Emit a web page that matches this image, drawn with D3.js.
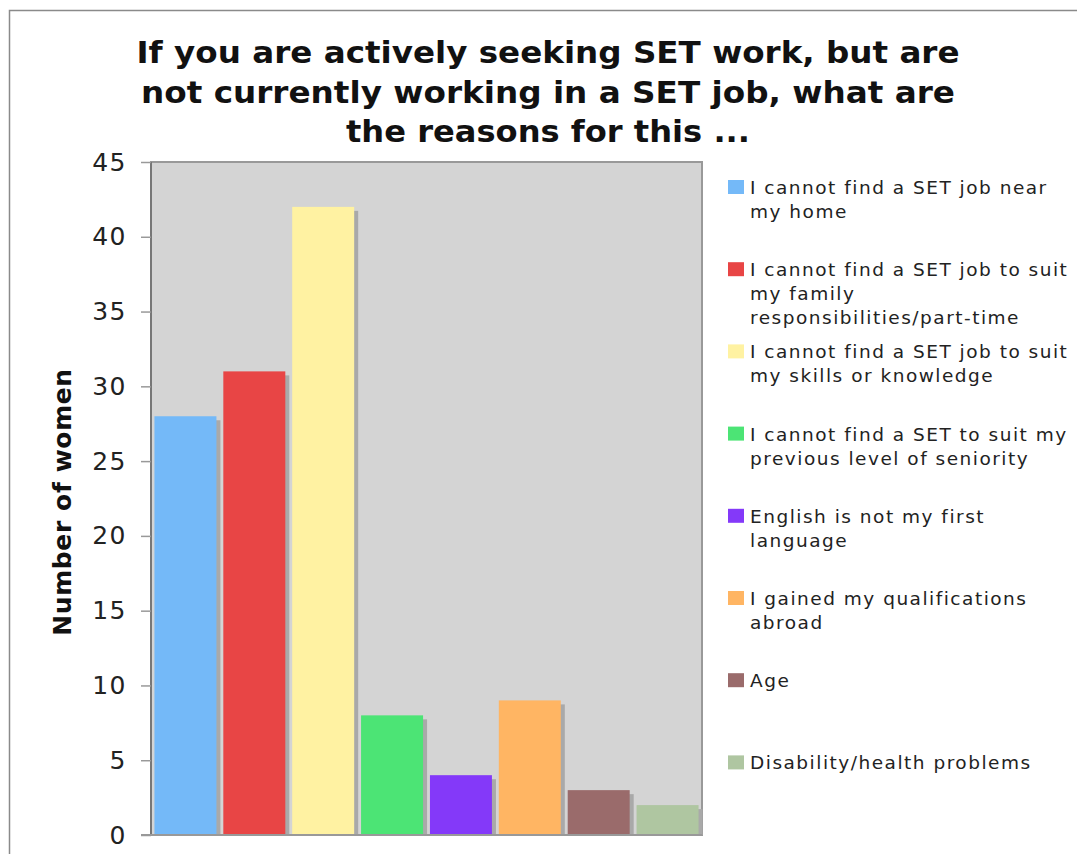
<!DOCTYPE html>
<html>
<head>
<meta charset="utf-8">
<script src="https://cdn.jsdelivr.net/npm/d3@7"></script>
<style>
	body { margin: 0; background: #fff; }
	text { font-family: "DejaVu Sans", Verdana, sans-serif; fill: #111; }
	.title { font-weight: bold; font-size: 30px; }
	.axis-label { font-weight: bold; font-size: 25px; letter-spacing: 0.6px; }
	.y-axis text { font-size: 25px; letter-spacing: 1.5px; fill: #222; }
	.legend text { font-size: 18.5px; letter-spacing: 1.5px; fill: #222; }
</style>
</head>
<body>
<div id="chart-area"></div>
<script>
// Data
var categories = [
	"I cannot find a SET job near my home",
	"I cannot find a SET job to suit my family responsibilities/part-time",
	"I cannot find a SET job to suit my skills or knowledge",
	"I cannot find a SET to suit my previous level of seniority",
	"English is not my first language",
	"I gained my qualifications abroad",
	"Age",
	"Disability/health problems"
];
var legendLines = [
	["I cannot find a SET job near", "my home"],
	["I cannot find a SET job to suit", "my family", "responsibilities/part-time"],
	["I cannot find a SET job to suit", "my skills or knowledge"],
	["I cannot find a SET to suit my", "previous level of seniority"],
	["English is not my first", "language"],
	["I gained my qualifications", "abroad"],
	["Age"],
	["Disability/health problems"]
];
var values = [28, 31, 42, 8, 4, 9, 3, 2];
var colors = ["#74b9f8", "#e84545", "#fff2a2", "#4ce475", "#8439f9", "#ffb563", "#9a6b6b", "#afc6a1"];
var yTicks = [0, 5, 10, 15, 20, 25, 30, 35, 40, 45];
var titleLines = [
	"If you are actively seeking SET work, but are",
	"not currently working in a SET job, what are",
	"the reasons for this ..."
];

var W = 1077, H = 854;
var plot = {left: 151, top: 162, right: 702, bottom: 835};

var svg = d3.select("#chart-area").append("svg")
	.attr("width", W)
	.attr("height", H);

// outer frame (only top/left visible in the crop)
svg.append("path")
	.attr("d", `M9.5,${H} V10.5 H${W}`)
	.attr("fill", "none")
	.attr("stroke", "#8a8a8a")
	.attr("stroke-width", 1.5);

// title
var titleWidths = [823, 814, 404];
svg.append("g").selectAll("text")
	.data(titleLines)
	.enter().append("text")
	.attr("class", "title")
	.attr("x", 548)
	.attr("y", (d, i) => 63 + i * 39.5)
	.attr("text-anchor", "middle")
	.attr("textLength", (d, i) => titleWidths[i])
	.attr("lengthAdjust", "spacingAndGlyphs")
	.text(d => d);

var xScale = d3.scaleBand()
	.domain(categories)
	.range([plot.left, plot.right])
	.paddingInner(0.1)
	.paddingOuter(0.05);

var yScale = d3.scaleLinear()
	.domain([0, 45])
	.range([plot.bottom, plot.top]);

// plot background
svg.append("rect")
	.attr("x", plot.left)
	.attr("y", plot.top)
	.attr("width", plot.right - plot.left)
	.attr("height", plot.bottom - plot.top)
	.attr("fill", "#d4d4d4")
	.attr("stroke", "#999")
	.attr("stroke-width", 2);

// bar shadows
var shadow = 4;
svg.append("g").selectAll("rect")
	.data(values)
	.enter().append("rect")
	.attr("x", (d, i) => xScale(categories[i]) + shadow)
	.attr("y", d => yScale(d) + shadow)
	.attr("width", xScale.bandwidth())
	.attr("height", d => plot.bottom - yScale(d) - shadow)
	.attr("fill", "#a9a9a9");

// bars
svg.append("g").selectAll("rect")
	.data(values)
	.enter().append("rect")
	.attr("x", (d, i) => xScale(categories[i]))
	.attr("y", d => yScale(d))
	.attr("width", xScale.bandwidth())
	.attr("height", d => plot.bottom - yScale(d))
	.attr("fill", (d, i) => colors[i]);

// left axis line
svg.append("line")
	.attr("x1", plot.left).attr("x2", plot.left)
	.attr("y1", plot.top).attr("y2", plot.bottom)
	.attr("stroke", "#777")
	.attr("stroke-width", 2);

// y axis
var yAxis = d3.axisLeft(yScale)
	.tickValues(yTicks)
	.tickSize(10)
	.tickPadding(14);

var yAxisGroup = svg.append("g")
	.attr("class", "y-axis")
	.attr("transform", `translate(${plot.left},0)`)
	.call(yAxis);
yAxisGroup.select(".domain").remove();
yAxisGroup.selectAll(".tick line").attr("stroke", "#999").attr("stroke-width", 1.5);
yAxisGroup.selectAll("text").attr("fill", "#222");

// bottom baseline
svg.append("line")
	.attr("x1", plot.left - 10).attr("x2", plot.right)
	.attr("y1", plot.bottom).attr("y2", plot.bottom)
	.attr("stroke", "#999")
	.attr("stroke-width", 2);

// y axis label
svg.append("text")
	.attr("class", "axis-label")
	.attr("text-anchor", "middle")
	.attr("transform", "translate(71,502) rotate(-90)")
	.text("Number of women");

// legend
var legend = svg.append("g").attr("class", "legend");
var items = legend.selectAll("g")
	.data(legendLines)
	.enter().append("g")
	.attr("transform", (d, i) => `translate(728,${180 + i * 82.2})`);

items.append("rect")
	.attr("width", 16)
	.attr("height", 14)
	.attr("fill", (d, i) => colors[i]);

items.each(function(lines) {
	var t = d3.select(this).append("text")
		.attr("x", 22)
		.attr("y", 14);
	lines.forEach(function(line, j) {
		t.append("tspan")
			.attr("x", 22)
			.attr("dy", j === 0 ? 0 : 24)
			.text(line);
	});
});
</script>
</body>
</html>
